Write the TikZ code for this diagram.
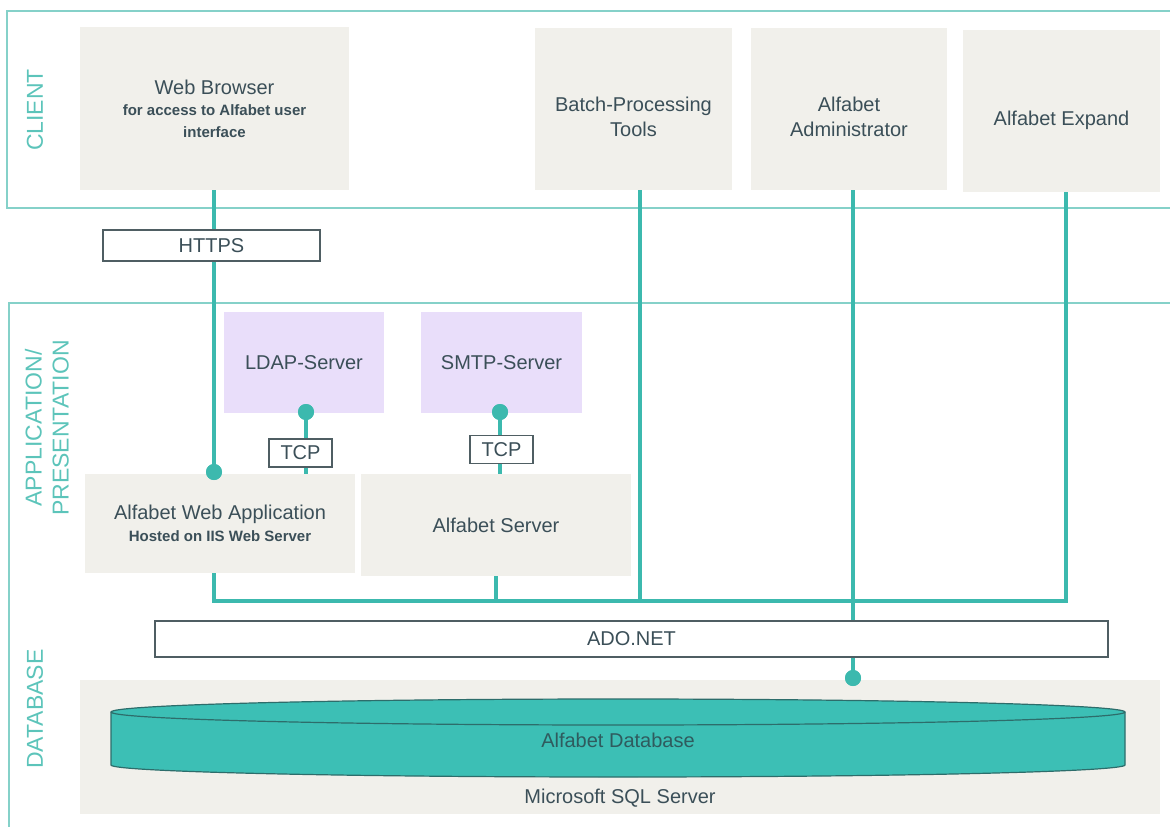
\documentclass[tikz,border=0pt]{standalone}
\usepackage{fontspec}
\setmainfont{Liberation Sans}
\definecolor{boxgrey}{HTML}{F1F0EB}
\definecolor{lav}{HTML}{E9DEFA}
\definecolor{txt}{HTML}{3B4F58}
\definecolor{tagborder}{HTML}{4F5E63}
\definecolor{conteal}{HTML}{3CB9AE}
\definecolor{frameteal}{HTML}{85D1C9}
\definecolor{layerteal}{HTML}{5CC4BA}
\definecolor{cylfill}{HTML}{3CBFB5}
\definecolor{cyldraw}{HTML}{2D6D6B}
\definecolor{cyltext}{HTML}{2F5B5E}
\newcommand{\subf}{\fontsize{15}{21.5}\selectfont\bfseries}
\begin{document}
\begin{tikzpicture}[x=1pt,y=-1pt,
  box/.style={fill=boxgrey, draw=none, inner sep=0pt, text=txt, align=center,
    font=\fontsize{20}{21.5}\selectfont},
  purp/.style={box, fill=lav},
  txtnode/.style={inner sep=0pt, text=txt, align=center, font=\fontsize{20}{24}\selectfont},
  tag/.style={draw=tagborder, line width=1.5pt, fill=white, inner sep=0pt, text=txt,
    font=\fontsize{20}{24}\selectfont},
  conn/.style={draw=conteal, line width=3.5pt},
  frame/.style={draw=frameteal, line width=2pt},
  layer/.style={text=layerteal, font=\fontsize{23}{27}\selectfont, rotate=90, align=center, inner sep=0pt},
  dot/.style={circle, fill=conteal, inner sep=0pt, minimum size=16pt}]
\useasboundingbox (0,0) rectangle (1170,827);
\clip (0,0) rectangle (1170,827);

% layer frames
\draw[frame] (1180,11) -- (7,11) -- (7,208) -- (1180,208);
\draw[frame] (1180,303) -- (9,303) -- (9,835);

% layer labels
\node[layer] (lclient) at (35,110) {CLIENT};
\node[layer] (lapp) at (47,428) {APPLICATION/\\PRESENTATION};
\node[layer] (ldb) at (35,709) {DATABASE};

% client boxes
\node[box, minimum width=269pt, minimum height=163pt] (web) at (214.5,108.5)
  {Web Browser\\{\subf for access to Alfabet user}\\{\subf interface}};
\node[box, minimum width=197pt, minimum height=162pt] (batch) at (633.5,109) {};
\node[txtnode, font=\fontsize{20}{25}\selectfont] (batchT) at (633.5,117) {Batch-Processing\\Tools};
\node[box, minimum width=196pt, minimum height=162pt] (admin) at (849,109) {};
\node[txtnode, font=\fontsize{20}{25}\selectfont] (adminT) at (849,117) {Alfabet\\Administrator};
\node[box, minimum width=197pt, minimum height=162pt] (expand) at (1061.5,111) {};
\node[txtnode] (expandT) at (1061.5,120) {Alfabet Expand};

% application boxes
\node[purp, minimum width=160pt, minimum height=101pt] (ldap) at (304,362.5) {LDAP-Server};
\node[purp, minimum width=161pt, minimum height=101pt] (smtp) at (501.5,362.5) {SMTP-Server};
\node[box, minimum width=270pt, minimum height=99pt, font=\fontsize{20}{22}\selectfont] (webapp) at (220,523.5)
  {Alfabet Web Application\\{\fontsize{15}{22}\selectfont\bfseries Hosted on IIS Web Server}};
\node[box, minimum width=270pt, minimum height=102pt] (server) at (496,525) {Alfabet Server};

% database
\node[box, minimum width=1080pt, minimum height=134pt] (sql) at (620,747) {};
\node[txtnode] (sqlT) at (620,798) {Microsoft SQL Server};
\draw[fill=cylfill, draw=cyldraw, line width=1.2pt]
  (111,712) -- (111,765) arc[start angle=180, end angle=360, x radius=507pt, y radius=12pt]
  -- (1125,712) arc[start angle=0, end angle=180, x radius=507pt, y radius=13pt] -- cycle;
\draw[draw=cyldraw, line width=1.2pt] (111,712) arc[start angle=180, end angle=360, x radius=507pt, y radius=13pt];
\node[txtnode, text=cyltext] (dbT) at (618,740) {Alfabet Database};

% connector coordinates
\coordinate (busL) at (214,601);
\coordinate (busR) at (1066,601);
\coordinate (busB) at (640,601);
\coordinate (busS) at (496,601);

% dots
\node[dot] (dweb) at (214,472) {};
\node[dot] (dldap) at (306,412) {};
\node[dot] (dsmtp) at (500,412) {};
\node[dot] (ddb) at (853,678) {};

% connectors
\draw[conn] (web.south -| dweb) -- (dweb.center);
\draw[conn] (dldap.center) -- (webapp.north -| dldap);
\draw[conn] (dsmtp.center) -- (server.north -| dsmtp);
\draw[conn] (webapp.south -| busL) -- (busL) -- (busR) -- (expand.south -| busR);
\draw[conn] (server.south -| busS) -- (busS);
\draw[conn] (batch.south -| busB) -- (busB);
\draw[conn] (admin.south -| ddb) -- (ddb.center);

% protocol tags
\node[tag, minimum width=217pt, minimum height=31pt] (https) at (211.5,245.5) {HTTPS};
\node[tag, minimum width=63pt, minimum height=28pt] (tcp1) at (300.5,453) {TCP};
\node[tag, minimum width=63pt, minimum height=28pt] (tcp2) at (501.5,449.5) {TCP};
\node[tag, minimum width=953pt, minimum height=36pt] (ado) at (631.5,639) {ADO.NET};

% redraw dots on top
\node[dot] at (dweb) {};
\node[dot] at (dldap) {};
\node[dot] at (dsmtp) {};
\node[dot] at (ddb) {};
\end{tikzpicture}
\end{document}
